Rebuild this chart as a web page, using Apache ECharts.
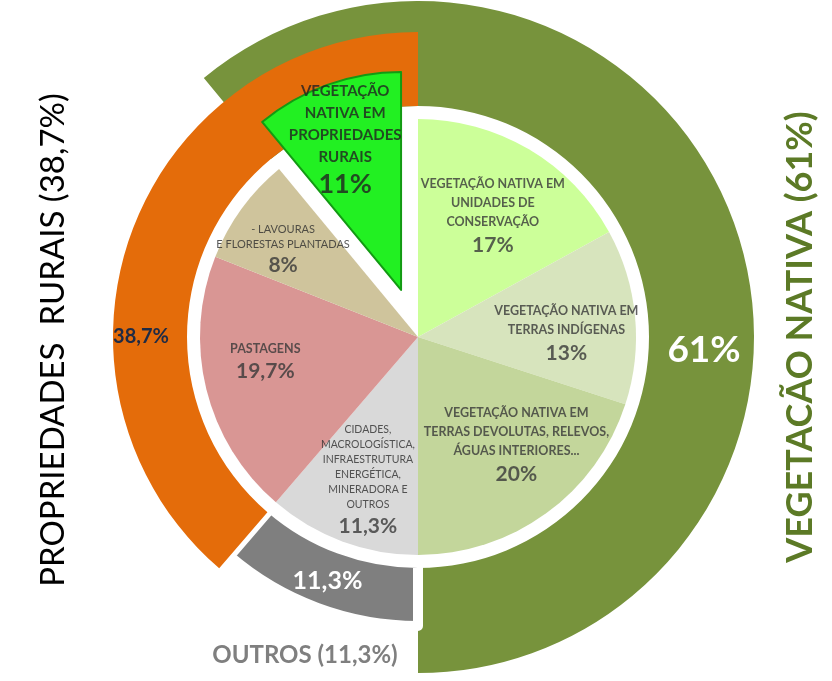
<!DOCTYPE html>
<html><head><meta charset="utf-8">
<script src="https://cdn.jsdelivr.net/npm/echarts@6/dist/echarts.min.js"></script>
<style>html,body{margin:0;padding:0;background:#fff}#c{width:832px;height:681px}</style>
</head><body><div id="c"></div>
<script>
// Inner pie (clockwise from 12 o'clock)
const innerNames = [
  'VEGETAÇÃO NATIVA EM\nUNIDADES DE\nCONSERVAÇÃO',
  'VEGETAÇÃO NATIVA EM\nTERRAS INDÍGENAS',
  'VEGETAÇÃO NATIVA EM\nTERRAS DEVOLUTAS, RELEVOS,\nÁGUAS INTERIORES...',
  'CIDADES,\nMACROLOGÍSTICA,\nINFRAESTRUTURA\nENERGÉTICA,\nMINERADORA E\nOUTROS',
  'PASTAGENS',
  '- LAVOURAS\nE FLORESTAS PLANTADAS',
  'VEGETAÇÃO\nNATIVA EM\nPROPRIEDADES\nRURAIS'
];
const innerValues = [17, 13, 20, 11.3, 19.7, 8, 11];
const innerColors = ['#ccff99', '#d7e4bd', '#c3d69b', '#d9d9d9', '#d99694', '#cfc49c', '#22f022'];
const explodedIndex = 6;

// Outer ring groups
const ringNames = ['VEGETAÇÃO NATIVA', 'OUTROS', 'PROPRIEDADES RURAIS'];
const ringValues = [61, 11.3, 38.7];
const ringLabels = ['61%', '11,3%', '38,7%'];
const ringColors = ['#77933c', '#7f7f7f', '#e46c0a'];

const sideTitles = ['PROPRIEDADES  RURAIS (38,7%)', 'VEGETACÃO NATIVA (61%)', 'OUTROS (11,3%)'];

const fmt = v => String(v).replace('.', ',') + '%';
const FONT = 'Lato, "Open Sans", sans-serif';
const C = [418, 337];
const R = 218;
const EXPLODE = 50;

// derived angles
const nativeOutsideRural = innerValues[0] + innerValues[1] + innerValues[2];
const greenStart = 90 + 360 * innerValues[explodedIndex] / 100;

const T = 'rgba(0,0,0,0)';
const nameStyle = ['n', 'n', 'n', 'ns', 'n', 'nl', 'ng'];
const pctStyle = ['p', 'p', 'p', 'p', 'p', 'p', 'pg'];
// small text nudges (layout only)
const labelNudge = [[0, 6], [2, 11], [12, -10], [1, 6], [-10, -10], [-16, 0], [0, 6]];

// label anchor points (radius, cumulative mid value) through polar axes
let acc = 0;
const labelPoints = innerValues.map((v, i) => {
  const mid = acc + v / 2; acc += v;
  const r = i === explodedIndex ? 165 + EXPLODE : 147;
  return {value: [r, mid], label: {offset: labelNudge[i]}};
});

const hiddenAxis = {show: false, axisLine: {show: false}, axisTick: {show: false},
  axisLabel: {show: false}, splitLine: {show: false}, splitArea: {show: false}};

const chart = echarts.init(document.getElementById('c'));
chart.setOption({
  animation: false,
  backgroundColor: '#fff',
  polar: {center: C, radius: R},
  angleAxis: Object.assign({type: 'value', min: 0, max: 100, startAngle: 90, clockwise: true}, hiddenAxis),
  radiusAxis: Object.assign({type: 'value', min: 0, max: R}, hiddenAxis),
  series: [
    { // green ring (behind)
      type: 'pie', center: C, radius: [231, 336], startAngle: greenStart, clockwise: true,
      silent: true, label: {show: false}, labelLine: {show: false},
      data: [
        {name: ringNames[0], value: ringValues[0], itemStyle: {color: ringColors[0]}},
        {name: '', value: 100 - ringValues[0], itemStyle: {color: T}}
      ]
    },
    { // gray ring
      type: 'pie', center: C, radius: [226, 289], startAngle: 90, clockwise: true,
      silent: true, labelLine: {show: false},
      label: {show: false},
      data: [
        {name: '', value: nativeOutsideRural, itemStyle: {color: T}},
        {name: ringNames[1], value: ringValues[1],
          itemStyle: {color: ringColors[1], borderColor: '#fff', borderWidth: 10},
          label: {show: true, position: 'inside', formatter: ringLabels[1], color: '#fff',
            fontFamily: FONT, fontWeight: 'bold', fontSize: 25}},
        {name: '', value: ringValues[2], itemStyle: {color: T}}
      ]
    },
    { // orange ring
      type: 'pie', center: C, radius: [231, 305], startAngle: 90, clockwise: true,
      silent: true, label: {show: false}, labelLine: {show: false},
      data: [
        {name: '', value: nativeOutsideRural, itemStyle: {color: T}},
        {name: '', value: ringValues[1], itemStyle: {color: T}},
        {name: ringNames[2], value: ringValues[2], itemStyle: {color: ringColors[2]}}
      ]
    },
    { // inner pie
      type: 'pie', center: C, radius: [0, R], startAngle: 90, clockwise: true,
      selectedMode: 'single', selectedOffset: EXPLODE, silent: true,
      label: {show: false}, labelLine: {show: false},
      data: innerValues.map((v, i) => ({
        name: innerNames[i], value: v, selected: i === explodedIndex,
        itemStyle: {color: innerColors[i],
          borderColor: i === explodedIndex ? '#139a13' : innerColors[i],
          borderWidth: i === explodedIndex ? 2 : 0},
        select: {itemStyle: {color: innerColors[i],
          borderColor: i === explodedIndex ? '#139a13' : innerColors[i],
          borderWidth: i === explodedIndex ? 2 : 0}}
      }))
    },
    { // labels for inner slices
      type: 'scatter', coordinateSystem: 'polar', silent: true, z: 10,
      symbol: 'circle', symbolSize: 1, itemStyle: {color: T},
      data: labelPoints,
      label: {
        show: true, position: 'inside', fontFamily: FONT,
        formatter: p => '{' + nameStyle[p.dataIndex] + '|' + innerNames[p.dataIndex] + '}\n{' +
          pctStyle[p.dataIndex] + '|' + fmt(innerValues[p.dataIndex]) + '}',
        rich: {
          n:  {fontFamily: FONT, fontSize: 12.5, fontWeight: 'bold', color: '#383838', lineHeight: 19, align: 'center'},
          ns: {fontFamily: FONT, fontSize: 10.5, color: '#2e2e2e', lineHeight: 15, align: 'center'},
          nl: {fontFamily: FONT, fontSize: 11, color: '#2e2e2e', lineHeight: 15, align: 'center'},
          ng: {fontFamily: FONT, fontSize: 15, fontWeight: 'bold', color: '#222', lineHeight: 22, align: 'center'},
          p:  {fontFamily: FONT, fontSize: 21, fontWeight: 'bold', color: '#383838', lineHeight: 27, align: 'center'},
          pg: {fontFamily: FONT, fontSize: 27, fontWeight: 'bold', color: '#222', lineHeight: 33, align: 'center'}
        }
      }
    }
  ],
  graphic: [
    {type: 'text', x: 53, y: 340, rotation: Math.PI / 2, z: 100,
      style: {text: sideTitles[0], fill: '#000', font: '33px ' + FONT, textAlign: 'center', textVerticalAlign: 'middle'}},
    {type: 'text', x: 800, y: 337, rotation: Math.PI / 2, z: 100,
      style: {text: sideTitles[1], fill: '#5c7a26', font: 'bold 36px ' + FONT, textAlign: 'center', textVerticalAlign: 'middle'}},
    {type: 'text', x: 305, y: 655, z: 100,
      style: {text: sideTitles[2], fill: '#7f7f7f', font: 'bold 24px ' + FONT, textAlign: 'center', textVerticalAlign: 'middle'}},
    {type: 'text', x: 141, y: 337, z: 100,
      style: {text: ringLabels[2], fill: '#1f2b45', font: 'bold 20px ' + FONT, textAlign: 'center', textVerticalAlign: 'middle'}},
    {type: 'text', x: 704, y: 350, z: 100,
      style: {text: ringLabels[0], fill: '#fff', font: 'bold 37px ' + FONT, textAlign: 'center', textVerticalAlign: 'middle'}}
  ]
});
</script>
</body></html>
